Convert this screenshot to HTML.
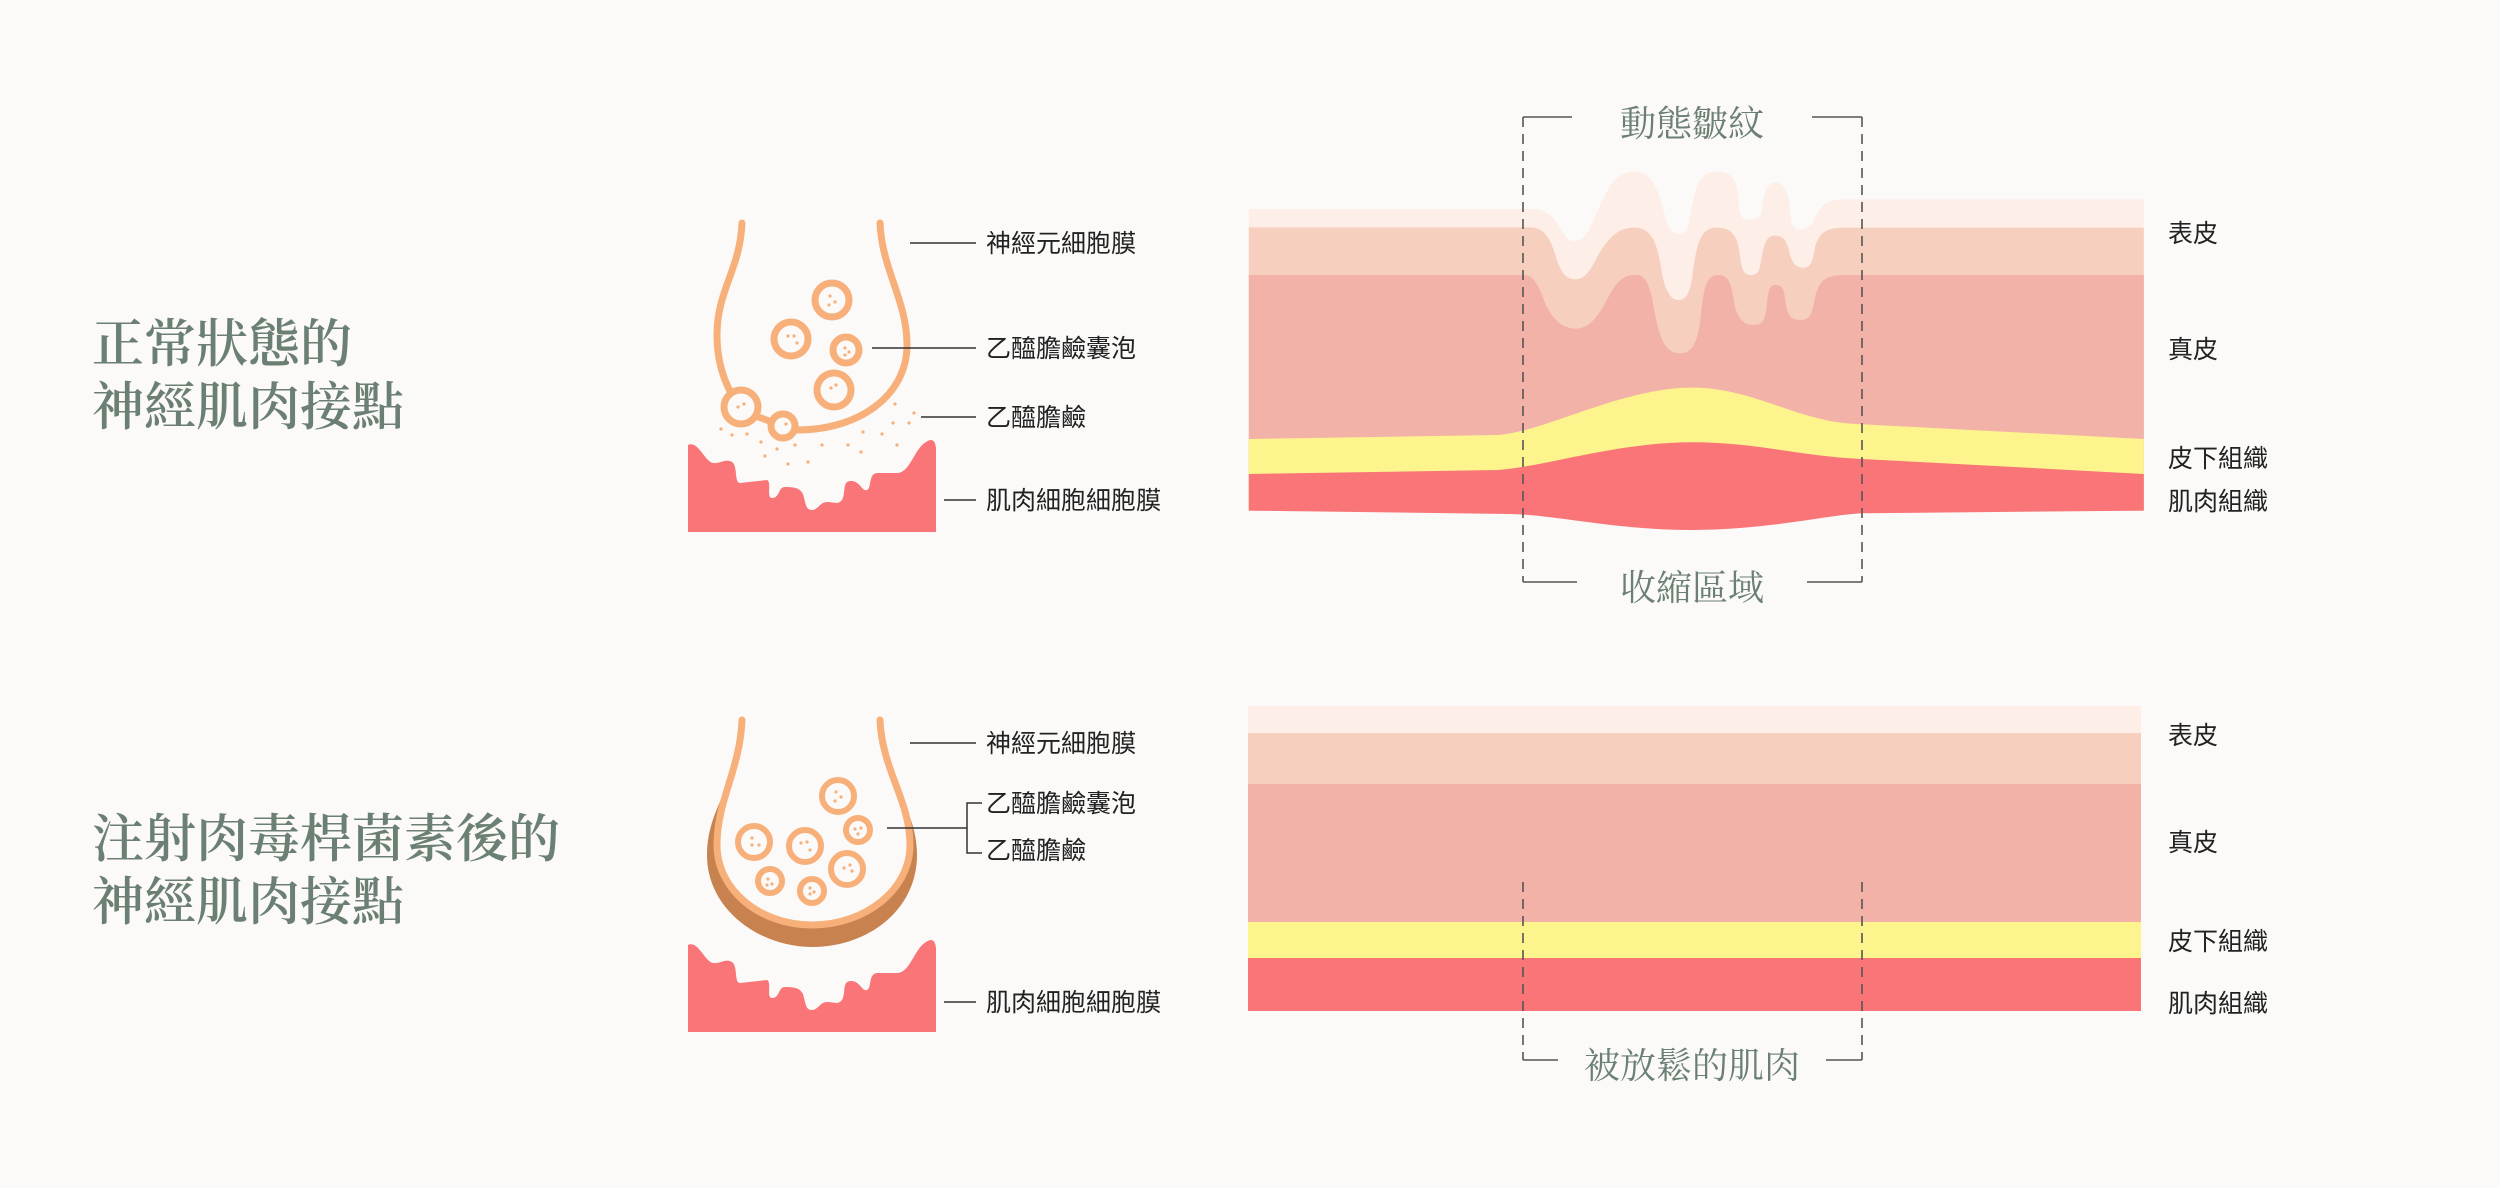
<!DOCTYPE html>
<html><head><meta charset="utf-8"><style>
html,body{margin:0;padding:0;background:#fbfaf8;}
svg{display:block}
.t{font-family:"Liberation Serif","Noto Serif CJK SC",serif;fill:#6b8072;font-size:52px;font-weight:600}
.l{font-family:"Liberation Sans","Noto Sans CJK TC",sans-serif;fill:#222;font-size:25px}
.g{font-family:"Liberation Serif","Noto Serif CJK SC",serif;fill:#6b8072;font-size:36px}
</style></head><body>
<svg width="2500" height="1188" viewBox="0 0 2500 1188" xmlns="http://www.w3.org/2000/svg">
<rect width="2500" height="1188" fill="#fbfaf8"/>
<text class="t" x="92" y="362">正常狀態的</text>
<text class="t" x="92" y="425">神經肌肉接點</text>
<text class="t" x="92" y="857">注射肉毒桿菌素後的</text>
<text class="t" x="92" y="920">神經肌肉接點</text>

<!-- nerve 1 -->
<g fill="none" stroke="#f8b07a" stroke-width="7" stroke-linecap="round">
<path d="M742,223 C740,270 717,290 717,335 C717,370 730,395 741,407"/>
<path d="M880,223 C882,270 907,300 907,345 C907,395 860,430 797,430 L783,426"/>
<line x1="753" y1="415" x2="772" y2="422"/>
<circle cx="741" cy="407" r="17" fill="#fbfaf8"/>
<circle cx="783" cy="426" r="12" fill="#fbfaf8"/>
<circle cx="832" cy="300" r="17"/><circle cx="791" cy="339" r="17"/>
<circle cx="846" cy="350" r="13"/><circle cx="834" cy="390" r="17"/>
</g>
<g fill="#f8b07a">
<circle cx="830" cy="296" r="1.6"/><circle cx="835" cy="302" r="1.6"/><circle cx="829" cy="305" r="1.6"/>
<circle cx="788" cy="336" r="1.6"/><circle cx="794" cy="336" r="1.6"/><circle cx="797" cy="343" r="1.6"/>
<circle cx="845" cy="348" r="1.6"/><circle cx="849" cy="352" r="1.6"/><circle cx="845" cy="355" r="1.6"/>
<circle cx="831" cy="388" r="1.6"/><circle cx="836" cy="385" r="1.6"/>
<circle cx="738" cy="407" r="1.6"/><circle cx="744" cy="404" r="1.6"/><circle cx="786" cy="424" r="1.6"/>
<circle cx="721" cy="429" r="1.6"/><circle cx="732" cy="435" r="1.6"/><circle cx="747" cy="434" r="1.6"/>
<circle cx="761" cy="442" r="1.6"/><circle cx="777" cy="449" r="1.6"/><circle cx="765" cy="456" r="1.6"/>
<circle cx="795" cy="445" r="1.6"/><circle cx="788" cy="464" r="1.6"/><circle cx="808" cy="462" r="1.6"/>
<circle cx="822" cy="445" r="1.6"/><circle cx="848" cy="445" r="1.6"/><circle cx="861" cy="452" r="1.6"/>
<circle cx="863" cy="432" r="1.6"/><circle cx="882" cy="434" r="1.6"/><circle cx="897" cy="445" r="1.6"/>
<circle cx="893" cy="423" r="1.6"/><circle cx="895" cy="404" r="1.6"/><circle cx="914" cy="413" r="1.6"/><circle cx="909" cy="423" r="1.6"/>
</g>
<path id="m1" fill="#f97577" d="M688,445 C698,440 705,462 713,463 C720,464 726,458 732,462 C738,466 734,483 740,483 L767,480 C772,482 766,498 772,498 C780,498 778,487 785,487 C797,487 800,489 803,494 C806,505 806,510 812,510 C818,510 820,502 827,502 C834,502 838,505 842,500 C846,493 842,482 850,481 C860,480 862,492 867,490 C872,488 868,474 877,473 L898,473 C910,472 915,448 926,442 C932,438 935,440 936,448 L936,532 L688,532 Z"/>
<g stroke="#333" stroke-width="1.5">
<line x1="910" y1="243" x2="976" y2="243"/>
<line x1="872" y1="348" x2="976" y2="348"/>
<line x1="921" y1="417" x2="976" y2="417"/>
<line x1="944" y1="500" x2="976" y2="500"/>
</g>
<text class="l" x="986" y="252">神經元細胞膜</text>
<text class="l" x="986" y="357">乙醯膽鹼囊泡</text>
<text class="l" x="986" y="426">乙醯膽鹼</text>
<text class="l" x="986" y="509">肌肉細胞細胞膜</text>

<!-- nerve 2 -->
<path fill="#c8824f" d="M742,740 C735,785 707,810 707,855 C707,910 760,947 812,947 C868,947 917,910 917,855 C917,810 888,785 880,740 Z"/>
<path fill="#fbfaf8" stroke="#f8b07a" stroke-width="7" stroke-linecap="round" d="M742,720 C740,770 717,800 717,845 C717,890 760,925 812,925 C865,925 910,890 910,845 C910,800 882,770 880,720"/>
<g fill="none" stroke="#f8b07a" stroke-width="6">
<circle cx="838" cy="796" r="16"/><circle cx="858" cy="830" r="12"/><circle cx="754" cy="842" r="16"/>
<circle cx="805" cy="846" r="16"/><circle cx="847" cy="869" r="16"/><circle cx="770" cy="881" r="12"/><circle cx="812" cy="891" r="12"/>
</g>
<g fill="#f8b07a">
<circle cx="836" cy="792" r="1.6"/><circle cx="841" cy="797" r="1.6"/><circle cx="835" cy="801" r="1.6"/>
<circle cx="855" cy="829" r="1.6"/><circle cx="861" cy="828" r="1.6"/><circle cx="858" cy="834" r="1.6"/>
<circle cx="752" cy="838" r="1.6"/><circle cx="752" cy="845" r="1.6"/><circle cx="759" cy="845" r="1.6"/>
<circle cx="801" cy="843" r="1.6"/><circle cx="807" cy="842" r="1.6"/><circle cx="810" cy="850" r="1.6"/>
<circle cx="844" cy="868" r="1.6"/><circle cx="850" cy="865" r="1.6"/><circle cx="852" cy="871" r="1.6"/>
<circle cx="768" cy="879" r="1.6"/><circle cx="772" cy="884" r="1.6"/><circle cx="767" cy="885" r="1.6"/>
<circle cx="810" cy="888" r="1.6"/><circle cx="814" cy="892" r="1.6"/><circle cx="810" cy="894" r="1.6"/>
</g>
<use href="#m1" transform="translate(0,500)"/>
<g stroke="#333" stroke-width="1.5" fill="none">
<line x1="910" y1="743" x2="976" y2="743"/>
<line x1="887" y1="828" x2="967" y2="828"/>
<polyline points="982,803 967,803 967,853 982,853"/>
<line x1="944" y1="1002" x2="976" y2="1002"/>
</g>
<text class="l" x="986" y="752">神經元細胞膜</text>
<text class="l" x="986" y="812">乙醯膽鹼囊泡</text>
<text class="l" x="986" y="859">乙醯膽鹼</text>
<text class="l" x="986" y="1011">肌肉細胞細胞膜</text>

<!-- skin 1 -->
<g transform="translate(1240,90) scale(0.5869,0.3333)">
<path fill="#fdeee8" d="M15,357 L500,357 C530,357 540,400 555,440 C565,460 580,460 595,420 C620,330 630,245 672,245 C710,245 715,330 730,410 C740,440 760,440 765,400 C775,300 780,245 812,245 C850,245 848,300 852,370 C856,395 880,395 888,370 C892,320 895,278 912,278 C935,278 935,330 940,400 C945,425 965,425 975,400 C990,340 1000,328 1030,328 L1540,328 L1540,1262 L1060,1270 C1000,1275 900,1320 770,1320 C640,1320 540,1275 460,1272 L15,1262 Z"/>
<path fill="#f6cfbe" d="M15,412 L495,412 C520,412 530,450 540,510 C550,560 560,568 572,568 C590,568 600,530 612,490 C630,440 645,413 672,413 C705,413 712,470 720,560 C728,620 738,630 748,630 C760,630 768,610 772,540 C780,440 790,413 812,413 C840,413 848,440 852,500 C855,545 860,555 870,555 C885,555 885,540 890,490 C895,450 900,437 912,437 C928,437 932,455 938,500 C943,525 950,533 960,533 C972,533 975,520 980,470 C988,425 1000,413 1030,413 L1540,413 L1540,1262 L15,1262 Z"/>
<path fill="#f2b2a8" d="M15,555 L485,555 C500,555 510,590 520,640 C535,700 555,716 572,716 C595,716 610,680 625,630 C640,580 650,555 675,555 C695,555 700,600 708,680 C718,770 732,790 750,790 C770,790 780,760 785,680 C790,590 795,555 815,555 C835,555 838,590 842,640 C848,690 860,705 875,705 C892,705 895,690 898,640 C900,600 902,585 913,585 C925,585 927,600 930,640 C933,680 940,690 955,690 C972,690 975,670 980,620 C987,575 995,555 1030,555 L1540,555 L1540,1262 L15,1262 Z"/>
<path fill="#fdf48e" d="M15,1047 L440,1035 C520,1025 650,893 770,893 C880,893 950,1000 1060,1003 L1540,1047 L1540,1262 L15,1262 Z"/>
<path fill="#f97577" d="M15,1152 L440,1140 C520,1130 640,1057 770,1057 C880,1057 960,1100 1060,1107 L1540,1152 L1540,1262 L1060,1270 C1000,1275 900,1320 770,1320 C640,1320 540,1275 460,1272 L15,1262 Z"/>
</g>
<g stroke="#555" stroke-width="1.6" fill="none">
<line x1="1523" y1="117" x2="1523" y2="582" stroke-dasharray="10,7"/>
<line x1="1862" y1="117" x2="1862" y2="582" stroke-dasharray="10,7"/>
<line x1="1523" y1="117" x2="1572" y2="117"/><line x1="1812" y1="117" x2="1862" y2="117"/>
<line x1="1523" y1="582" x2="1577" y2="582"/><line x1="1807" y1="582" x2="1862" y2="582"/>
</g>
<text class="g" x="1692" y="136" text-anchor="middle">動態皺紋</text>
<text class="g" x="1692" y="600" text-anchor="middle">收縮區域</text>
<text class="l" x="2168" y="242">表皮</text>
<text class="l" x="2168" y="358">真皮</text>
<text class="l" x="2168" y="467">皮下組織</text>
<text class="l" x="2168" y="510">肌肉組織</text>

<!-- skin 2 -->
<rect x="1248" y="706" width="893" height="28" fill="#fdeee8"/>
<rect x="1248" y="733" width="893" height="52" fill="#f6cfbe"/>
<rect x="1248" y="784" width="893" height="139" fill="#f2b2a8"/>
<rect x="1248" y="922" width="893" height="37" fill="#fdf48e"/>
<rect x="1248" y="958" width="893" height="53" fill="#f97577"/>
<g stroke="#555" stroke-width="1.6" fill="none">
<line x1="1523" y1="882" x2="1523" y2="1060" stroke-dasharray="10,7"/>
<line x1="1862" y1="882" x2="1862" y2="1060" stroke-dasharray="10,7"/>
<line x1="1523" y1="1060" x2="1558" y2="1060"/><line x1="1826" y1="1060" x2="1862" y2="1060"/>
</g>
<text class="g" x="1692" y="1078" text-anchor="middle">被放鬆的肌肉</text>
<text class="l" x="2168" y="744">表皮</text>
<text class="l" x="2168" y="851">真皮</text>
<text class="l" x="2168" y="950">皮下組織</text>
<text class="l" x="2168" y="1012">肌肉組織</text>
</svg>
</body></html>
